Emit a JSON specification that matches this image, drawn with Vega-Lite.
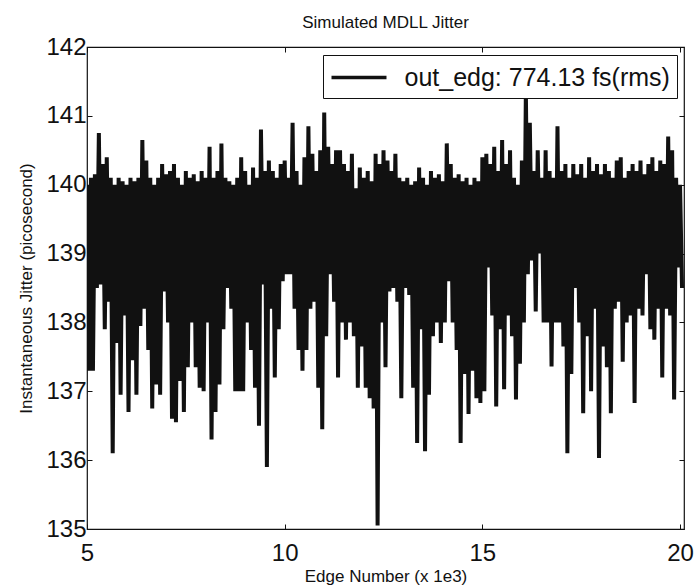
{
  "$schema": "https://vega.github.io/schema/vega-lite/v6.json",
  "width": 597,
  "height": 482,
  "autosize": "none",
  "padding": {"left": 87, "top": 47, "right": 11, "bottom": 59},
  "background": "white",
  "title": {"text": "Simulated MDLL Jitter", "font": "Liberation Sans", "fontSize": 17, "fontWeight": "normal", "color": "#111", "anchor": "middle", "offset": 3},
  "config": {
    "view": {"stroke": "#111", "strokeWidth": 1.2},
    "axis": {"domainColor": "#111", "tickColor": "#111", "labelColor": "#111", "titleColor": "#111", "grid": false, "labelFont": "Liberation Sans", "titleFont": "Liberation Sans", "titleFontWeight": "normal"}
  },
  "data": {"values": [
{"e":5.0,"j":140.0},{"e":5.05,"j":137.3},{"e":5.1,"j":140.1},{"e":5.15,"j":137.3},{"e":5.2,"j":140.15},{"e":5.25,"j":138.5},{"e":5.3,"j":140.75},{"e":5.35,"j":138.55},{"e":5.4,"j":140.3},{"e":5.45,"j":137.9},
{"e":5.5,"j":140.4},{"e":5.55,"j":138.3},{"e":5.6,"j":140.1},{"e":5.65,"j":136.1},{"e":5.7,"j":140.0},{"e":5.75,"j":137.7},{"e":5.8,"j":140.1},{"e":5.85,"j":136.95},{"e":5.9,"j":140.05},{"e":5.95,"j":138.1},
{"e":6.0,"j":140.0},{"e":6.05,"j":136.7},{"e":6.1,"j":140.1},{"e":6.15,"j":137.45},{"e":6.2,"j":140.05},{"e":6.25,"j":136.95},{"e":6.3,"j":140.1},{"e":6.35,"j":137.95},{"e":6.4,"j":140.65},{"e":6.45,"j":138.2},
{"e":6.5,"j":140.35},{"e":6.55,"j":137.6},{"e":6.6,"j":140.1},{"e":6.65,"j":136.75},{"e":6.7,"j":140.0},{"e":6.75,"j":137.1},{"e":6.8,"j":140.1},{"e":6.85,"j":136.95},{"e":6.9,"j":140.3},{"e":6.95,"j":138.45},
{"e":7.0,"j":140.15},{"e":7.05,"j":138.0},{"e":7.1,"j":140.2},{"e":7.15,"j":136.6},{"e":7.2,"j":140.3},{"e":7.25,"j":136.55},{"e":7.3,"j":140.1},{"e":7.35,"j":137.15},{"e":7.4,"j":140.0},{"e":7.45,"j":136.7},
{"e":7.5,"j":140.2},{"e":7.55,"j":137.35},{"e":7.6,"j":140.1},{"e":7.65,"j":138.0},{"e":7.7,"j":140.15},{"e":7.75,"j":137.35},{"e":7.8,"j":140.05},{"e":7.85,"j":137.05},{"e":7.9,"j":140.2},{"e":7.95,"j":137.0},
{"e":8.0,"j":140.1},{"e":8.05,"j":138.0},{"e":8.1,"j":140.55},{"e":8.15,"j":136.3},{"e":8.2,"j":140.1},{"e":8.25,"j":136.7},{"e":8.3,"j":140.2},{"e":8.35,"j":137.1},{"e":8.4,"j":140.6},{"e":8.45,"j":137.9},
{"e":8.5,"j":140.1},{"e":8.55,"j":138.5},{"e":8.6,"j":140.05},{"e":8.65,"j":138.2},{"e":8.7,"j":140.0},{"e":8.75,"j":137.0},{"e":8.8,"j":140.1},{"e":8.85,"j":137.0},{"e":8.9,"j":140.4},{"e":8.95,"j":137.0},
{"e":9.0,"j":140.2},{"e":9.05,"j":138.0},{"e":9.1,"j":140.0},{"e":9.15,"j":137.6},{"e":9.2,"j":140.25},{"e":9.25,"j":137.05},{"e":9.3,"j":140.1},{"e":9.35,"j":136.5},{"e":9.4,"j":140.8},{"e":9.45,"j":138.55},
{"e":9.5,"j":140.2},{"e":9.55,"j":135.9},{"e":9.6,"j":140.35},{"e":9.65,"j":138.2},{"e":9.7,"j":140.2},{"e":9.75,"j":137.2},{"e":9.8,"j":140.1},{"e":9.85,"j":137.9},{"e":9.9,"j":140.3},{"e":9.95,"j":138.6},
{"e":10.0,"j":140.35},{"e":10.05,"j":138.7},{"e":10.1,"j":140.1},{"e":10.15,"j":138.7},{"e":10.2,"j":140.9},{"e":10.25,"j":138.2},{"e":10.3,"j":140.2},{"e":10.35,"j":137.6},{"e":10.4,"j":140.0},{"e":10.45,"j":137.3},
{"e":10.5,"j":140.4},{"e":10.55,"j":137.6},{"e":10.6,"j":140.85},{"e":10.65,"j":138.2},{"e":10.7,"j":140.45},{"e":10.75,"j":138.3},{"e":10.8,"j":140.2},{"e":10.85,"j":137.05},{"e":10.9,"j":140.5},{"e":10.95,"j":136.45},
{"e":11.0,"j":141.05},{"e":11.05,"j":137.8},{"e":11.1,"j":140.55},{"e":11.15,"j":138.7},{"e":11.2,"j":140.3},{"e":11.25,"j":138.3},{"e":11.3,"j":140.5},{"e":11.35,"j":137.2},{"e":11.4,"j":140.5},{"e":11.45,"j":138.0},
{"e":11.5,"j":140.3},{"e":11.55,"j":137.75},{"e":11.6,"j":140.2},{"e":11.65,"j":138.0},{"e":11.7,"j":140.45},{"e":11.75,"j":137.8},{"e":11.8,"j":139.95},{"e":11.85,"j":137.05},{"e":11.9,"j":140.25},{"e":11.95,"j":137.65},
{"e":12.0,"j":140.1},{"e":12.05,"j":137.05},{"e":12.1,"j":140.2},{"e":12.15,"j":136.9},{"e":12.2,"j":140.05},{"e":12.25,"j":136.75},{"e":12.3,"j":140.45},{"e":12.35,"j":135.05},{"e":12.4,"j":140.3},{"e":12.45,"j":138.0},
{"e":12.5,"j":140.5},{"e":12.55,"j":137.35},{"e":12.6,"j":140.35},{"e":12.65,"j":138.45},{"e":12.7,"j":140.2},{"e":12.75,"j":138.5},{"e":12.8,"j":140.45},{"e":12.85,"j":138.3},{"e":12.9,"j":140.1},{"e":12.95,"j":136.9},
{"e":13.0,"j":140.05},{"e":13.05,"j":138.5},{"e":13.1,"j":140.1},{"e":13.15,"j":138.4},{"e":13.2,"j":140.0},{"e":13.25,"j":137.05},{"e":13.3,"j":140.05},{"e":13.35,"j":136.25},{"e":13.4,"j":140.25},{"e":13.45,"j":137.9},
{"e":13.5,"j":140.1},{"e":13.55,"j":136.13},{"e":13.6,"j":140.0},{"e":13.65,"j":136.95},{"e":13.7,"j":140.2},{"e":13.75,"j":137.8},{"e":13.8,"j":140.1},{"e":13.85,"j":138.0},{"e":13.9,"j":140.15},{"e":13.95,"j":137.7},
{"e":14.0,"j":140.05},{"e":14.05,"j":138.0},{"e":14.1,"j":140.6},{"e":14.15,"j":138.6},{"e":14.2,"j":140.3},{"e":14.25,"j":138.0},{"e":14.3,"j":140.1},{"e":14.35,"j":137.6},{"e":14.4,"j":140.15},{"e":14.45,"j":136.25},
{"e":14.5,"j":140.05},{"e":14.55,"j":137.25},{"e":14.6,"j":140.1},{"e":14.65,"j":136.67},{"e":14.7,"j":140.0},{"e":14.75,"j":137.3},{"e":14.8,"j":140.1},{"e":14.85,"j":136.9},{"e":14.9,"j":140.05},{"e":14.95,"j":136.83},
{"e":15.0,"j":140.4},{"e":15.05,"j":137.0},{"e":15.1,"j":140.45},{"e":15.15,"j":138.8},{"e":15.2,"j":140.3},{"e":15.25,"j":138.1},{"e":15.3,"j":140.55},{"e":15.35,"j":136.78},{"e":15.4,"j":140.2},{"e":15.45,"j":137.9},
{"e":15.5,"j":140.65},{"e":15.55,"j":137.03},{"e":15.6,"j":140.3},{"e":15.65,"j":138.1},{"e":15.7,"j":140.5},{"e":15.75,"j":137.8},{"e":15.8,"j":140.1},{"e":15.85,"j":136.88},{"e":15.9,"j":140.0},{"e":15.95,"j":137.4},
{"e":16.0,"j":140.35},{"e":16.05,"j":138.0},{"e":16.1,"j":141.35},{"e":16.15,"j":138.7},{"e":16.2,"j":140.9},{"e":16.25,"j":138.9},{"e":16.3,"j":140.2},{"e":16.35,"j":138.16},{"e":16.4,"j":140.5},{"e":16.45,"j":139.0},
{"e":16.5,"j":140.1},{"e":16.55,"j":138.0},{"e":16.6,"j":140.5},{"e":16.65,"j":138.0},{"e":16.7,"j":140.2},{"e":16.75,"j":137.36},{"e":16.8,"j":140.1},{"e":16.85,"j":138.0},{"e":16.9,"j":140.85},{"e":16.95,"j":138.0},
{"e":17.0,"j":140.2},{"e":17.05,"j":137.65},{"e":17.1,"j":140.3},{"e":17.15,"j":136.1},{"e":17.2,"j":140.1},{"e":17.25,"j":137.25},{"e":17.3,"j":140.3},{"e":17.35,"j":138.5},{"e":17.4,"j":140.15},{"e":17.45,"j":138.0},
{"e":17.5,"j":140.3},{"e":17.55,"j":136.68},{"e":17.6,"j":140.1},{"e":17.65,"j":137.8},{"e":17.7,"j":140.4},{"e":17.75,"j":137.0},{"e":17.8,"j":140.2},{"e":17.85,"j":138.2},{"e":17.9,"j":140.3},{"e":17.95,"j":136.03},
{"e":18.0,"j":140.15},{"e":18.05,"j":137.65},{"e":18.1,"j":140.3},{"e":18.15,"j":137.35},{"e":18.2,"j":140.2},{"e":18.25,"j":136.68},{"e":18.3,"j":140.1},{"e":18.35,"j":138.2},{"e":18.4,"j":140.35},{"e":18.45,"j":138.3},
{"e":18.5,"j":140.4},{"e":18.55,"j":137.43},{"e":18.6,"j":140.1},{"e":18.65,"j":138.0},{"e":18.7,"j":140.2},{"e":18.75,"j":138.1},{"e":18.8,"j":140.3},{"e":18.85,"j":136.83},{"e":18.9,"j":140.2},{"e":18.95,"j":138.2},
{"e":19.0,"j":140.35},{"e":19.05,"j":138.1},{"e":19.1,"j":140.15},{"e":19.15,"j":138.7},{"e":19.2,"j":140.3},{"e":19.25,"j":137.9},{"e":19.3,"j":140.4},{"e":19.35,"j":137.75},{"e":19.4,"j":140.2},{"e":19.45,"j":138.2},
{"e":19.5,"j":140.35},{"e":19.55,"j":137.2},{"e":19.6,"j":140.3},{"e":19.65,"j":138.2},{"e":19.7,"j":140.7},{"e":19.75,"j":138.1},{"e":19.8,"j":140.5},{"e":19.85,"j":136.88},{"e":19.9,"j":140.1},{"e":19.95,"j":138.8},
{"e":20.0,"j":140.0},{"e":20.05,"j":138.5}
  ]},
  "layer": [
    {
      "mark": {"type": "line", "strokeWidth": 4, "clip": true, "strokeJoin": "miter"},
      "encoding": {
        "x": {"field": "e", "type": "quantitative", "scale": {"domain": [5, 20.1], "nice": false, "zero": false},
              "axis": {"orient": "bottom", "values": [5, 10, 15, 20], "tickSize": -5, "labelFontSize": 24, "labelPadding": 17, "title": "Edge Number (x 1e3)", "titleFontSize": 17, "titlePadding": 3, "domain": false, "labelFlush": false}},
        "y": {"field": "j", "type": "quantitative", "scale": {"domain": [135, 142], "nice": false, "zero": false},
              "axis": {"orient": "left", "values": [135, 136, 137, 138, 139, 140, 141, 142], "tickSize": -5, "labelFontSize": 24, "labelPadding": 6, "title": "Instantaneous Jitter (picosecond)", "titleFontSize": 17, "titlePadding": 10, "domain": false}},
        "color": {"datum": "out_edg: 774.13 fs(rms)", "type": "nominal", "scale": {"range": ["#111111"]},
                  "legend": {"title": null, "orient": "none", "legendX": 236, "legendY": 8, "padding": 7, "strokeColor": "#111", "fillColor": "white", "symbolType": "M-2,0H2", "symbolStrokeWidth": 3.5, "symbolSize": 756, "symbolOffset": 13.5, "labelFontSize": 25, "labelLimit": 400, "labelFont": "Liberation Sans", "labelColor": "#111", "labelOffset": 30, "cornerRadius": 0}}
      }
    },
    {
      "mark": {"type": "line", "opacity": 0},
      "encoding": {
        "x": {"field": "e", "type": "quantitative", "axis": {"orient": "top", "values": [5, 10, 15, 20], "tickSize": -5, "labels": false, "title": null, "domain": false}},
        "y": {"field": "j", "type": "quantitative", "axis": {"orient": "right", "values": [135, 136, 137, 138, 139, 140, 141, 142], "tickSize": -5, "labels": false, "title": null, "domain": false}}
      }
    }
  ],
  "resolve": {"axis": {"x": "independent", "y": "independent"}}
}
